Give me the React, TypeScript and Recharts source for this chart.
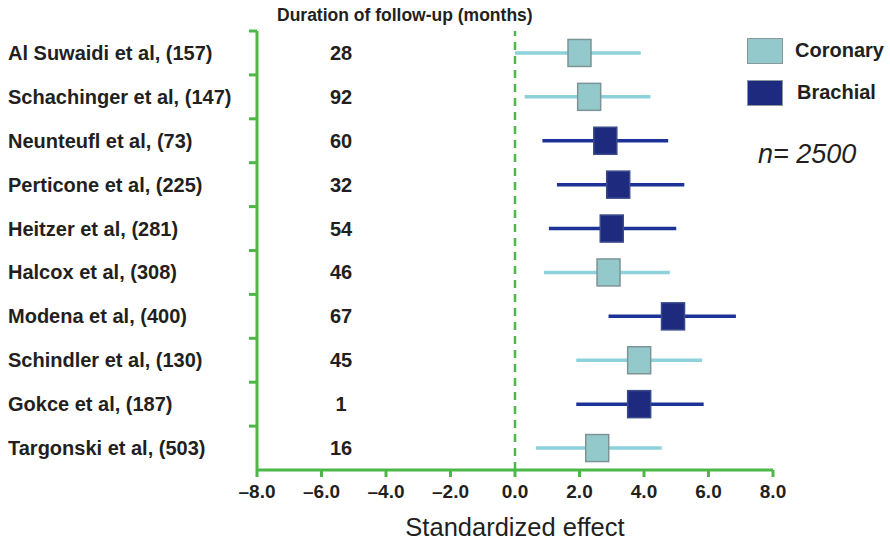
import React from "react";
import { ScatterChart, Scatter, XAxis, YAxis, ErrorBar, ReferenceLine, Label } from "recharts";

const studies = [
  "Al Suwaidi et al, (157)",
  "Schachinger et al, (147)",
  "Neunteufl et al, (73)",
  "Perticone et al, (225)",
  "Heitzer et al, (281)",
  "Halcox et al, (308)",
  "Modena et al, (400)",
  "Schindler et al, (130)",
  "Gokce et al, (187)",
  "Targonski et al, (503)",
];
const followUp = [28, 92, 60, 32, 54, 46, 67, 45, 1, 16];
const vessel = ["Coronary", "Coronary", "Brachial", "Brachial", "Brachial", "Coronary", "Brachial", "Coronary", "Brachial", "Coronary"];
const effect = [2.0, 2.3, 2.8, 3.2, 3.0, 2.9, 4.9, 3.85, 3.85, 2.55];
const ciLow = [0.0, 0.3, 0.85, 1.3, 1.05, 0.9, 2.9, 1.9, 1.9, 0.65];
const ciHigh = [3.9, 4.2, 4.75, 5.25, 5.0, 4.8, 6.85, 5.8, 5.85, 4.55];
const xTicks = [-8, -6, -4, -2, 0, 2, 4, 6, 8];
// boundaries (whole numbers) get a green tick mark, row centres (halves) get the labels
const yTicks = [0, 0.5, 1, 1.5, 2, 2.5, 3, 3.5, 4, 4.5, 5, 5.5, 6, 6.5, 7, 7.5, 8, 8.5, 9, 9.5, 10];

const GREEN = "#4cb848";
const TEXT = "#231f20";
const FONT = "'Liberation Sans', Arial, sans-serif";
const colors: Record<string, { fill: string; stroke: string; line: string }> = {
  Coronary: { fill: "#93c9cb", stroke: "#7d9496", line: "#8dd2da" },
  Brachial: { fill: "#1e2a7e", stroke: "#3a4a8a", line: "#1c3296" },
};

const points = studies.map((name, i) => ({
  name,
  x: effect[i],
  y: i + 0.5,
  err: [effect[i] - ciLow[i], ciHigh[i] - effect[i]],
  vessel: vessel[i],
}));
const coronary = points.filter((p) => p.vessel === "Coronary");
const brachial = points.filter((p) => p.vessel === "Brachial");

const fmt = (v: number) => (v < 0 ? "\u2013" + Math.abs(v).toFixed(1) : v.toFixed(1));

const Box = (kind: string) => (props: any) => {
  const { cx, cy } = props;
  const c = colors[kind];
  return <rect x={cx - 11.5} y={cy - 13.5} width={23} height={27} fill={c.fill} stroke={c.stroke} strokeWidth={1.5} />;
};

const RowTick = (props: any) => {
  const { x, y, payload } = props;
  const v = payload.value;
  if (Number.isInteger(v)) {
    if (v === 10) return <g />;
    return <line x1={x} x2={x + 8} y1={y} y2={y} stroke={GREEN} strokeWidth={3} />;
  }
  const i = Math.floor(v);
  return (
    <g>
      <text x={8} y={y} dy={7} textAnchor="start" fontFamily={FONT} fontWeight="bold" fontSize={20} fill={TEXT}>
        {studies[i]}
      </text>
      <text x={341} y={y} dy={7} textAnchor="middle" fontFamily={FONT} fontWeight="bold" fontSize={20} fill={TEXT}>
        {followUp[i]}
      </text>
    </g>
  );
};

export default function App() {
  return (
    <div style={{ position: "absolute", left: 0, top: 0, width: 890, height: 545, background: "#fff", fontFamily: FONT }}>
      <div style={{ position: "absolute", left: 277, top: 5, fontSize: 17.5, fontWeight: "bold", color: TEXT, whiteSpace: "nowrap" }}>
        Duration of follow-up (months)
      </div>
      <ScatterChart width={890} height={545} margin={{ top: 31, right: 117, bottom: 0, left: 0 }}>
        <XAxis
          type="number"
          dataKey="x"
          domain={[-8, 8]}
          ticks={xTicks}
          tickFormatter={fmt}
          height={75}
          axisLine={{ stroke: GREEN, strokeWidth: 3 }}
          tickLine={{ stroke: GREEN, strokeWidth: 3 }}
          tickSize={7}
          tickMargin={8}
          tick={{ fill: TEXT, fontSize: 19, fontWeight: "bold", fontFamily: FONT }}
        >
          <Label
            value="Standardized effect"
            position="insideBottom"
            offset={9}
            style={{ fontSize: 25.5, fontFamily: FONT, fill: TEXT }}
          />
        </XAxis>
        <YAxis
          type="number"
          dataKey="y"
          domain={[0, 10]}
          reversed
          ticks={yTicks}
          interval={0}
          width={257}
          axisLine={{ stroke: GREEN, strokeWidth: 3 }}
          tickLine={false}
          tickSize={8}
          tickMargin={0}
          tick={RowTick}
        />
        <ReferenceLine x={0} stroke={GREEN} strokeWidth={2.5} strokeDasharray="8 6" />
        <Scatter data={coronary} shape={Box("Coronary")} isAnimationActive={false}>
          <ErrorBar dataKey="err" direction="x" width={0} stroke={colors.Coronary.line} strokeWidth={3.5} isAnimationActive={false} />
        </Scatter>
        <Scatter data={brachial} shape={Box("Brachial")} isAnimationActive={false}>
          <ErrorBar dataKey="err" direction="x" width={0} stroke={colors.Brachial.line} strokeWidth={3.5} isAnimationActive={false} />
        </Scatter>
      </ScatterChart>
      <div style={{ position: "absolute", left: 747, top: 38, fontSize: 20, fontWeight: "bold", color: TEXT }}>
        {["Coronary", "Brachial"].map((k, j) => (
          <div key={k} style={{ display: "flex", alignItems: "center", height: 25, marginBottom: 17 }}>
            <div style={{ width: 34, height: 24, background: colors[k].fill, border: "1px solid #8a9a9c", marginRight: 12 + j * 2 }} />
            <span>{k}</span>
          </div>
        ))}
      </div>
      <div style={{ position: "absolute", left: 758, top: 139, fontSize: 27, fontStyle: "italic", color: TEXT, whiteSpace: "nowrap" }}>
        n= 2500
      </div>
    </div>
  );
}
